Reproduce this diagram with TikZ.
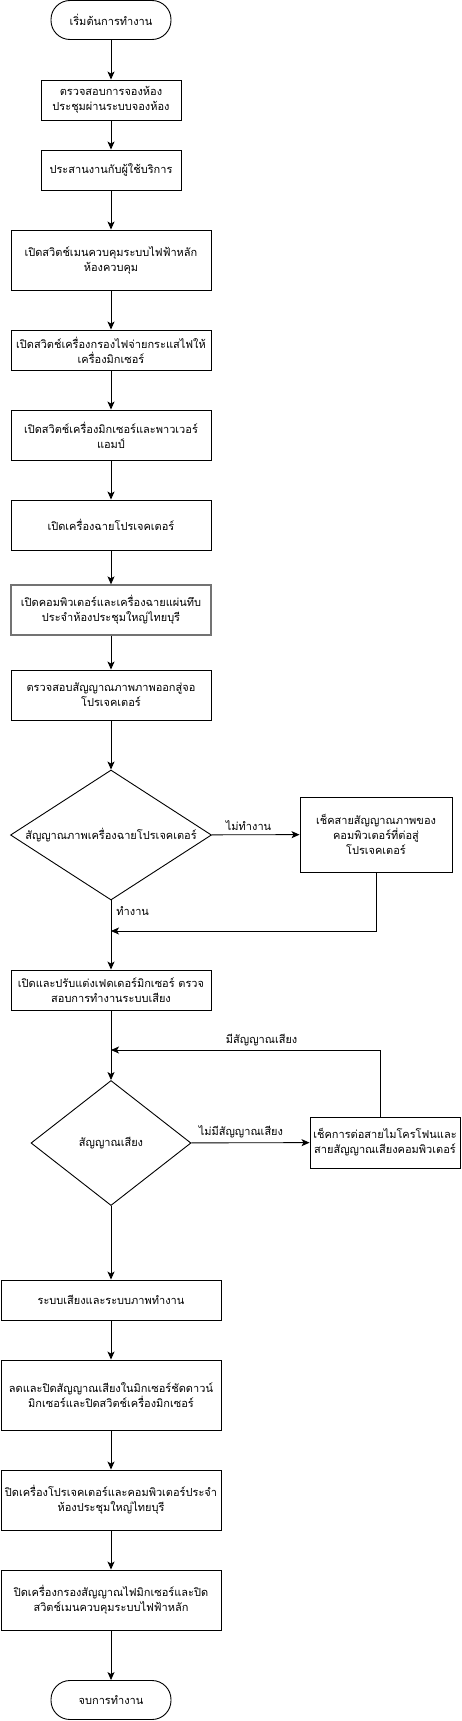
\documentclass[tikz,border=0pt]{standalone}
\usepackage{fontspec}
\setmainfont[Script=Thai]{Loma}
\usetikzlibrary{arrows.meta,shapes.geometric}
\newcommand{\flowfont}{\fontsize{11}{15}\selectfont}

\begin{document}
\begin{tikzpicture}[x=1pt,y=-1pt,line width=0.9pt,font=\flowfont,
  every node/.append style={inner sep=1pt,align=center},
  terminal/.style={draw,rectangle,rounded corners=19pt,minimum width=120,minimum height=39},
  stepbox/.style={draw,rectangle,minimum width=200},
  decision/.style={draw,diamond,inner sep=0pt},
  arr/.style={-{Stealth[length=8pt,width=7pt,inset=2pt]}}]
\useasboundingbox (0,0) rectangle (461,1721);
\node[terminal] (start) at (111,20) {เริ่มต้นการทำงาน};
\node[stepbox,minimum width=140,minimum height=40] (book) at (111,100) {ตรวจสอบการจองห้อง\\ประชุมผ่านระบบจองห้อง};
\node[stepbox,minimum width=140,minimum height=40] (contact) at (111,170) {ประสานงานกับผู้ใช้บริการ};
\node[stepbox,minimum height=60] (mainsw) at (111,260) {เปิดสวิตช์เมนควบคุมระบบไฟฟ้าหลัก\\ห้องควบคุม};
\node[stepbox,minimum height=40] (filter) at (111,350) {เปิดสวิตช์เครื่องกรองไฟจ่ายกระแสไฟให้\\เครื่องมิกเซอร์};
\node[stepbox,minimum height=50] (mixer) at (111,435) {เปิดสวิตช์เครื่องมิกเซอร์และพาวเวอร์\\แอมป์};
\node[stepbox,minimum height=50] (projon) at (111,525) {เปิดเครื่องฉายโปรเจคเตอร์};
\node[stepbox,minimum height=50,draw=black!55,line width=1.3pt] (pcon) at (111,610) {เปิดคอมพิวเตอร์และเครื่องฉายแผ่นทึบ\\ประจำห้องประชุมใหญ่ไทยบุรี};
\node[stepbox,minimum height=50] (output) at (111,695) {ตรวจสอบสัญญาณภาพภาพออกสู่จอ\\โปรเจคเตอร์};
\node[decision,minimum width=201,minimum height=130,label={center:สัญญาณภาพเครื่องฉายโปรเจคเตอร์}] (video) at (111,835) {};
\node[draw,rectangle,minimum width=152,minimum height=75] (chkcable) at (376,834.5) {เช็คสายสัญญาณภาพของ\\คอมพิวเตอร์ที่ต่อสู่\\โปรเจคเตอร์};
\coordinate (merge1) at (111,931);
\node[stepbox,minimum height=40] (fader) at (111,990) {เปิดและปรับแต่งเฟดเดอร์มิกเซอร์ ตรวจ\\สอบการทำงานระบบเสียง};
\coordinate (merge2) at (111,1050);
\node[decision,minimum width=160,minimum height=125,label={center:สัญญาณเสียง}] (audio) at (111,1143) {};
\node[draw,rectangle,minimum width=150,minimum height=51] (chkmic) at (385,1142.5) {เช็คการต่อสายไมโครโฟนและ\\สายสัญญาณเสียงคอมพิวเตอร์};
\node[stepbox,minimum width=220,minimum height=40] (running) at (111,1300) {ระบบเสียงและระบบภาพทำงาน};
\node[stepbox,minimum width=220,minimum height=70] (mixoff) at (111,1395) {ลดและปิดสัญญาณเสียงในมิกเซอร์ชัดดาวน์\\มิกเซอร์และปิดสวิตช์เครื่องมิกเซอร์};
\node[stepbox,minimum width=220,minimum height=60] (projoff) at (111,1500) {ปิดเครื่องโปรเจคเตอร์และคอมพิวเตอร์ประจำ\\ห้องประชุมใหญ่ไทยบุรี};
\node[stepbox,minimum width=220,minimum height=60] (mainoff) at (111,1600) {ปิดเครื่องกรองสัญญาณไฟมิกเซอร์และปิด\\สวิตช์เมนควบคุมระบบไฟฟ้าหลัก};
\node[terminal] (finish) at (111,1700) {จบการทำงาน};

\draw[arr] (start) -- (book);
\draw[arr] (book) -- (contact);
\draw[arr] (contact) -- (mainsw);
\draw[arr] (mainsw) -- (filter);
\draw[arr] (filter) -- (mixer);
\draw[arr] (mixer) -- (projon);
\draw[arr] (projon) -- (pcon);
\draw[arr] (pcon) -- (output);
\draw[arr] (output) -- (video);
\draw[arr] (video) -- node[pos=0.42,above=3pt]{ไม่ทำงาน} (chkcable);
\draw[arr] (chkcable.south) |- (merge1);
\draw[arr] (video) -- node[pos=0.15,right=4pt]{ทำงาน} (fader);
\draw[arr] (fader) -- (audio);
\draw[arr] ([xshift=-5pt]chkmic.north) |- node[pos=0.72,above=3pt]{มีสัญญาณเสียง} (merge2);
\draw[arr] (audio) -- node[pos=0.42,above=3pt]{ไม่มีสัญญาณเสียง} (chkmic);
\draw[arr] (audio) -- (running);
\draw[arr] (running) -- (mixoff);
\draw[arr] (mixoff) -- (projoff);
\draw[arr] (projoff) -- (mainoff);
\draw[arr] (mainoff) -- (finish);
\end{tikzpicture}
\end{document}
